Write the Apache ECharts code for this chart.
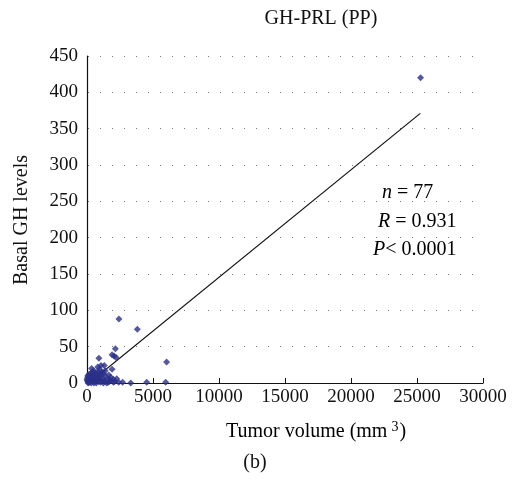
<!DOCTYPE html>
<html><head><meta charset="utf-8">
<script src="https://cdn.jsdelivr.net/npm/echarts@6/dist/echarts.min.js"></script>
<style>html,body{margin:0;padding:0;background:#fff}#c{width:515px;height:483px}</style>
</head><body><div id="c"></div>
<script>
const titleText = 'GH-PRL (PP)';
const xAxisName = 'Tumor volume (mm';
const yAxisName = 'Basal GH levels';
const xTicks = [0, 5000, 10000, 15000, 20000, 25000, 30000];
const yTicks = [0, 50, 100, 150, 200, 250, 300, 350, 400, 450];
const points = [
  [25270, 420], [2420, 88], [3810, 74], [6030, 29], [2150, 47], [1900, 39], [2050, 37], [2200, 35],
  [900, 34], [350, 20], [1060, 24], [1310, 24], [1900, 19], [4520, 1], [5960, 1], [3310, 0],
  [2700, 1], [600, 14], [860, 15], [1110, 15], [0, 5], [230, 9], [480, 11], [730, 9],
  [980, 5], [1230, 6], [1740, 4], [1990, 5], [1230, 0], [100, 2], [600, 4], [860, 2],
  [1490, 0], [50, 8], [150, 12], [300, 6], [400, 3], [200, 1], [700, 0], [500, 17],
  [750, 12], [1000, 10], [1150, 3], [1350, 2], [1600, 1], [2100, 2], [2400, 1], [80, 0],
  [320, 0], [1800, 8], [950, 19], [650, 7], [420, 15], [1400, 9], [250, 4], [1100, 12],
  [550, 2], [20, 3], [180, 6], [780, 5], [1700, 2], [350, 10], [1250, 13], [2250, 6],
  [1550, 5], [450, 7], [880, 8], [120, 1], [680, 3], [1020, 1], [2000, 1], [300, 13],
  [1380, 17], [520, 0], [60, 10], [1650, 11], [820, 22]
];
const fitLine = [[100, -1], [25250, 371]];
const statsN = '77', statsR = '0.931', statsP = '0.0001';

const chart = echarts.init(document.getElementById('c'));
const font = '"Liberation Serif", "DejaVu Serif", serif';
const ink = '#111';
function statText(x, y, sym, rest) {
  return {type: 'text', x: x, y: y,
    style: {text: '{i|' + sym + '}{a|' + rest + '}', verticalAlign: 'middle',
      rich: {i: {fontFamily: font, fontSize: 20, fontStyle: 'italic', color: ink},
             a: {fontFamily: font, fontSize: 20, color: ink}}}};
}
chart.setOption({
  animation: false,
  textStyle: {fontFamily: font},
  grid: {left: 87, right: 32, top: 56, bottom: 100},
  xAxis: {type: 'value', min: 0, max: 30000, interval: 5000,
    axisLine: {show: true, lineStyle: {color: ink, width: 1.2}},
    axisTick: {show: true, inside: true, length: 5, lineStyle: {color: ink}},
    axisLabel: {fontFamily: font, fontSize: 19, color: ink, margin: 5,
      formatter: function (v) { return String(v); }},
    splitLine: {show: false}},
  yAxis: {type: 'value', min: 0, max: 450, interval: 50,
    axisLine: {show: true, lineStyle: {color: ink, width: 1.2}},
    axisTick: {show: false},
    axisLabel: {fontFamily: font, fontSize: 19, color: ink, margin: 9},
    splitLine: {show: true, lineStyle: {color: '#777', width: 1, type: [1, 11], dashOffset: -13}}},
  graphic: [
    {type: 'text', x: 321, y: 19,
      style: {text: titleText, font: '20px ' + font, fill: ink, align: 'center', verticalAlign: 'middle'}},
    {type: 'text', x: 22, y: 220, rotation: Math.PI / 2,
      style: {text: yAxisName, font: '20px ' + font, fill: ink, align: 'center', verticalAlign: 'middle'}},
    {type: 'text', x: 316, y: 432,
      style: {text: '{a|' + xAxisName + '}{s|3}{a|)}', align: 'center', verticalAlign: 'middle',
        rich: {a: {fontFamily: font, fontSize: 20, color: ink},
               s: {fontFamily: font, fontSize: 14, color: ink, verticalAlign: 'top', padding: [0, 1, 10, 4]}}}},
    {type: 'text', x: 255, y: 463,
      style: {text: '(b)', font: '20px ' + font, fill: ink, align: 'center', verticalAlign: 'middle'}},
    statText(382, 193, 'n', ' = ' + statsN),
    statText(378, 222, 'R', ' = ' + statsR),
    statText(373, 250, 'P', '< ' + statsP)
  ],
  series: [
    {type: 'line', data: fitLine, symbol: 'none', lineStyle: {color: ink, width: 1.2}, z: 3},
    {type: 'scatter', data: points, symbol: 'diamond', symbolSize: 7,
      itemStyle: {color: '#2b3088'}, z: 4}
  ]
});
</script></body></html>
